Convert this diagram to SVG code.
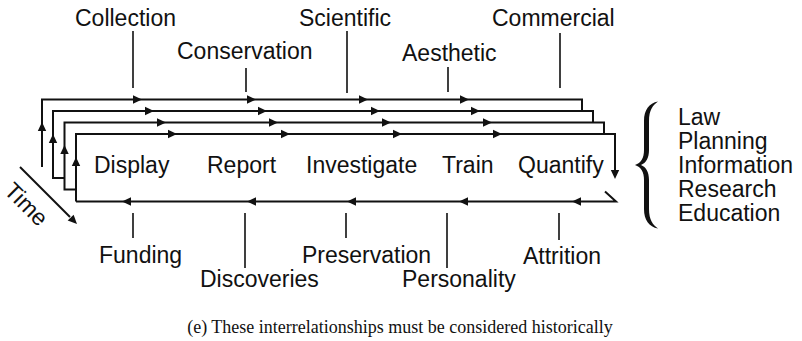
<svg xmlns="http://www.w3.org/2000/svg" xmlns:xlink="http://www.w3.org/1999/xlink" width="802" height="341" viewBox="0 0 802 341">
  <style>
    .lbl { font-family: "Liberation Sans", Arial, Helvetica, sans-serif; font-size: 23px; fill: #111; }
    .cap { font-family: "Liberation Serif", "Times New Roman", serif; font-size: 18px; fill: #111; }
    .loop { fill: none; stroke: #111; stroke-width: 2; stroke-linejoin: miter; }
    .tick { fill: none; stroke: #111; stroke-width: 1.6; }
    .head { fill: #111; }
  </style>
  <defs>
    <!-- arrowhead pointing right, tip at origin -->
    <path id="ah" d="M0,0 L-9,-4.2 L-9,4.2 Z"/>
  </defs>
  <rect width="802" height="341" fill="#fff"/>

  <g id="connectors">
    <!-- stacked loops, back to front -->
    <path class="loop" d="M42,167 V99.5 H582 V111"/>
    <path class="loop" d="M64.5,178 H53 V111 H593 V122.5"/>
    <path class="loop" d="M76,189.5 H64.5 V122.5 H604 V134"/>
    <path class="loop" d="M76,201.5 V134 H615 V170"/>
    <path class="loop" d="M605,191.5 L616,201.5 H76"/>

    <!-- arrowheads along the top runs -->
    <g class="head">
      <use xlink:href="#ah" transform="translate(142,99.5)"/>
      <use xlink:href="#ah" transform="translate(256,99.5)"/>
      <use xlink:href="#ah" transform="translate(368,99.5)"/>
      <use xlink:href="#ah" transform="translate(469,99.5)"/>
      <use xlink:href="#ah" transform="translate(154,111)"/>
      <use xlink:href="#ah" transform="translate(267,111)"/>
      <use xlink:href="#ah" transform="translate(380,111)"/>
      <use xlink:href="#ah" transform="translate(480,111)"/>
      <use xlink:href="#ah" transform="translate(166,122.5)"/>
      <use xlink:href="#ah" transform="translate(278,122.5)"/>
      <use xlink:href="#ah" transform="translate(391,122.5)"/>
      <use xlink:href="#ah" transform="translate(492,122.5)"/>
      <use xlink:href="#ah" transform="translate(177,134)"/>
      <use xlink:href="#ah" transform="translate(290,134)"/>
      <use xlink:href="#ah" transform="translate(402,134)"/>
      <use xlink:href="#ah" transform="translate(502,134)"/>
      <!-- upward heads on the left sides -->
      <use xlink:href="#ah" transform="translate(42,122) rotate(-90)"/>
      <use xlink:href="#ah" transform="translate(53,134) rotate(-90)"/>
      <use xlink:href="#ah" transform="translate(64.5,145) rotate(-90)"/>
      <use xlink:href="#ah" transform="translate(76,157) rotate(-90)"/>
      <!-- downward head on the right -->
      <use xlink:href="#ah" transform="translate(615,179) rotate(90)"/>
      <!-- return run along the bottom -->
      <use xlink:href="#ah" transform="translate(122,201.5) rotate(180)"/>
      <use xlink:href="#ah" transform="translate(247,201.5) rotate(180)"/>
      <use xlink:href="#ah" transform="translate(347,201.5) rotate(180)"/>
      <use xlink:href="#ah" transform="translate(459,201.5) rotate(180)"/>
      <use xlink:href="#ah" transform="translate(572,201.5) rotate(180)"/>
    </g>

    <!-- label leaders above -->
    <path class="tick" d="M133,31 V88 M246,68 V92 M347,31 V93 M448,67 V92 M560,33 V88"/>
    <!-- label leaders below -->
    <path class="tick" d="M133,213 V238 M245,213 V268 M346,213 V238 M447,213 V268 M559,213 V240"/>

    <!-- time axis -->
    <path class="loop" d="M20,167 L70,217"/>
    <use class="head" xlink:href="#ah" transform="translate(77,224) rotate(45)"/>
  </g>

  <g id="top-labels">
    <text class="lbl" x="75" y="26">Collection</text>
    <text class="lbl" x="177" y="59">Conservation</text>
    <text class="lbl" x="299" y="26">Scientific</text>
    <text class="lbl" x="402" y="61">Aesthetic</text>
    <text class="lbl" x="492" y="26">Commercial</text>
  </g>

  <g id="activities">
    <text class="lbl" x="94" y="173">Display</text>
    <text class="lbl" x="207" y="173">Report</text>
    <text class="lbl" x="306" y="173">Investigate</text>
    <text class="lbl" x="442" y="173">Train</text>
    <text class="lbl" x="518" y="173">Quantify</text>
  </g>

  <g id="bottom-labels">
    <text class="lbl" x="99" y="263">Funding</text>
    <text class="lbl" x="200" y="287">Discoveries</text>
    <text class="lbl" x="302" y="263">Preservation</text>
    <text class="lbl" x="402" y="287">Personality</text>
    <text class="lbl" x="523" y="264">Attrition</text>
  </g>

  <g id="time">
    <text class="lbl" transform="translate(3,192) rotate(45)">Time</text>
  </g>

  <g id="contexts">
    <!-- curly brace grouping the context list -->
    <path fill="#111" d="M658,101.5 C649,103 644,110 644,121 V150 C644,158 641,163 635,165 C641,167 644,172 644,180 V209 C644,220 649,227 658,228.5 C653,225 649,220 649,209 V180 C649,172 646,167 641,165 C646,163 649,158 649,150 V121 C649,110 653,105 658,101.5 Z"/>
    <text class="lbl" x="678" y="125">Law</text>
    <text class="lbl" x="678" y="149">Planning</text>
    <text class="lbl" x="678" y="173">Information</text>
    <text class="lbl" x="678" y="197">Research</text>
    <text class="lbl" x="678" y="221">Education</text>
  </g>

  <text class="cap" x="400" y="333" text-anchor="middle">(e) These interrelationships must be considered historically</text>
</svg>
